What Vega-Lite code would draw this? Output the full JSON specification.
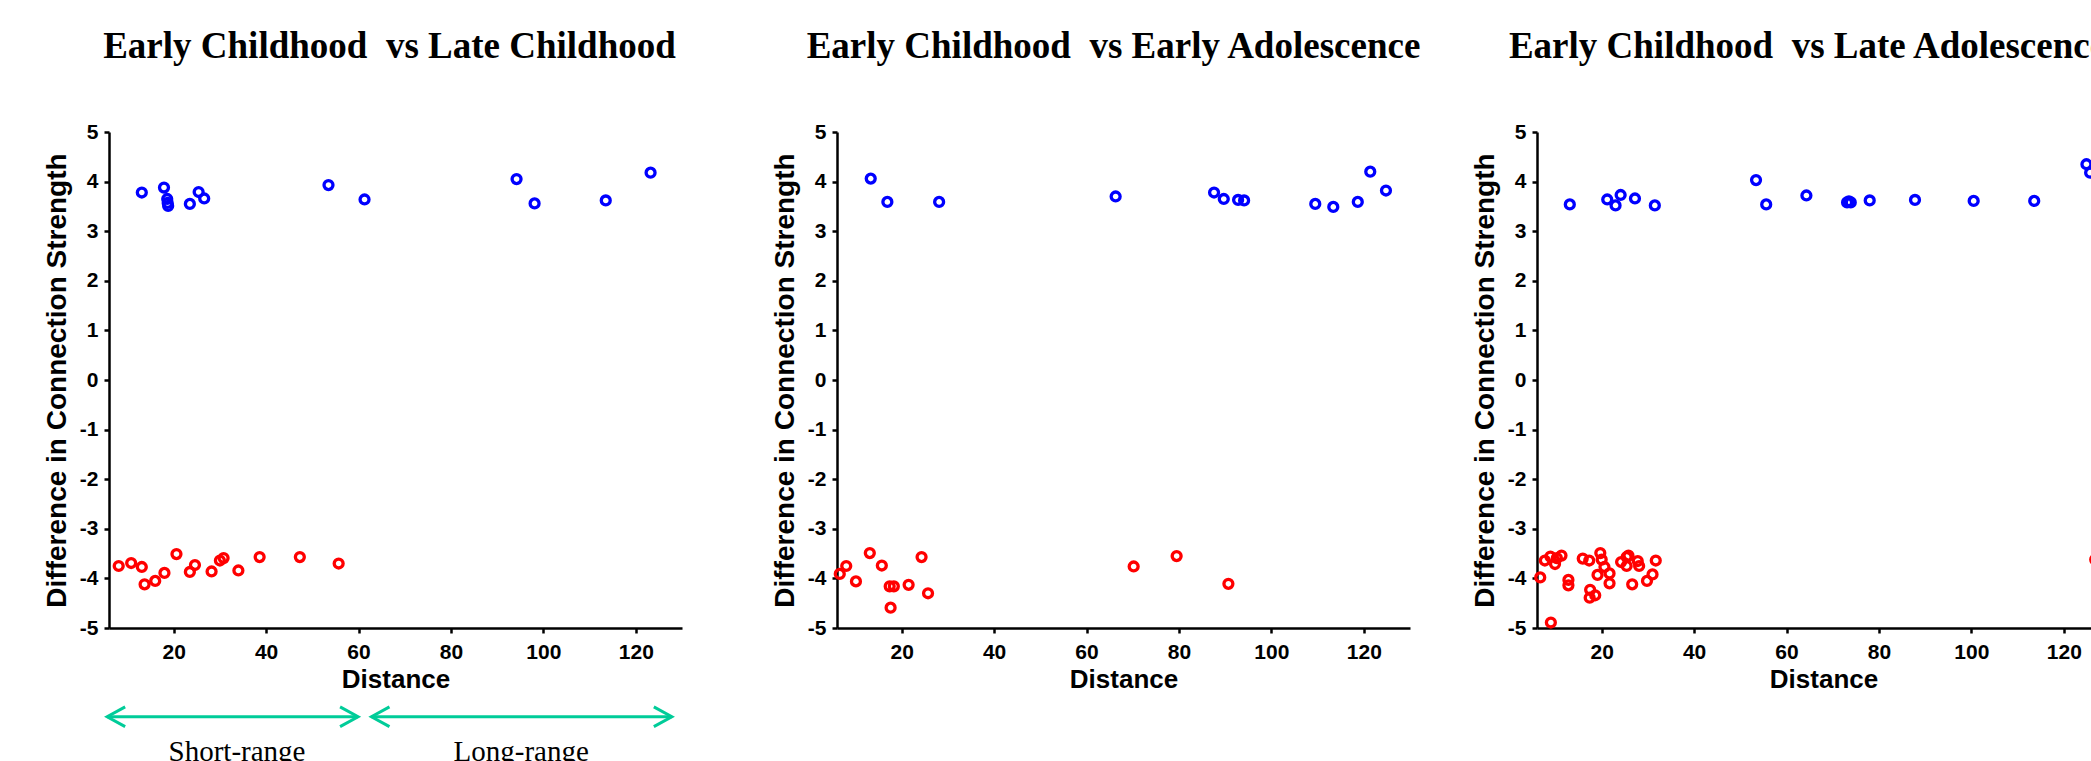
{
  "$schema": "https://vega.github.io/schema/vega-lite/v6.json",
  "background": "white",
  "padding": {"left": 43, "top": 28, "right": 0, "bottom": 0},
  "datasets": {
    "points": [
      {"comparison": "Late Childhood", "direction": "positive", "distance": 13.1, "diff": 3.78},
      {"comparison": "Late Childhood", "direction": "positive", "distance": 17.9, "diff": 3.88},
      {"comparison": "Late Childhood", "direction": "positive", "distance": 18.6, "diff": 3.65},
      {"comparison": "Late Childhood", "direction": "positive", "distance": 18.7, "diff": 3.57},
      {"comparison": "Late Childhood", "direction": "positive", "distance": 18.8, "diff": 3.51},
      {"comparison": "Late Childhood", "direction": "positive", "distance": 23.5, "diff": 3.55},
      {"comparison": "Late Childhood", "direction": "positive", "distance": 25.4, "diff": 3.79},
      {"comparison": "Late Childhood", "direction": "positive", "distance": 26.6, "diff": 3.66},
      {"comparison": "Late Childhood", "direction": "positive", "distance": 53.5, "diff": 3.93},
      {"comparison": "Late Childhood", "direction": "positive", "distance": 61.3, "diff": 3.64},
      {"comparison": "Late Childhood", "direction": "positive", "distance": 94.2, "diff": 4.05},
      {"comparison": "Late Childhood", "direction": "positive", "distance": 98.1, "diff": 3.56},
      {"comparison": "Late Childhood", "direction": "positive", "distance": 113.5, "diff": 3.62},
      {"comparison": "Late Childhood", "direction": "positive", "distance": 123.2, "diff": 4.18},
      {"comparison": "Late Childhood", "direction": "negative", "distance": 8.1, "diff": -3.75},
      {"comparison": "Late Childhood", "direction": "negative", "distance": 10.8, "diff": -3.69},
      {"comparison": "Late Childhood", "direction": "negative", "distance": 13.1, "diff": -3.77},
      {"comparison": "Late Childhood", "direction": "negative", "distance": 13.7, "diff": -4.12},
      {"comparison": "Late Childhood", "direction": "negative", "distance": 16.0, "diff": -4.05},
      {"comparison": "Late Childhood", "direction": "negative", "distance": 18.0, "diff": -3.89},
      {"comparison": "Late Childhood", "direction": "negative", "distance": 20.6, "diff": -3.51},
      {"comparison": "Late Childhood", "direction": "negative", "distance": 23.5, "diff": -3.87},
      {"comparison": "Late Childhood", "direction": "negative", "distance": 24.6, "diff": -3.73},
      {"comparison": "Late Childhood", "direction": "negative", "distance": 28.2, "diff": -3.86},
      {"comparison": "Late Childhood", "direction": "negative", "distance": 30.0, "diff": -3.64},
      {"comparison": "Late Childhood", "direction": "negative", "distance": 30.8, "diff": -3.59},
      {"comparison": "Late Childhood", "direction": "negative", "distance": 34.0, "diff": -3.84},
      {"comparison": "Late Childhood", "direction": "negative", "distance": 38.6, "diff": -3.57},
      {"comparison": "Late Childhood", "direction": "negative", "distance": 47.3, "diff": -3.57},
      {"comparison": "Late Childhood", "direction": "negative", "distance": 55.7, "diff": -3.70},

      {"comparison": "Early Adolescence", "direction": "positive", "distance": 13.3, "diff": 4.06},
      {"comparison": "Early Adolescence", "direction": "positive", "distance": 16.9, "diff": 3.59},
      {"comparison": "Early Adolescence", "direction": "positive", "distance": 28.1, "diff": 3.59},
      {"comparison": "Early Adolescence", "direction": "positive", "distance": 66.3, "diff": 3.70},
      {"comparison": "Early Adolescence", "direction": "positive", "distance": 87.6, "diff": 3.78},
      {"comparison": "Early Adolescence", "direction": "positive", "distance": 89.7, "diff": 3.65},
      {"comparison": "Early Adolescence", "direction": "positive", "distance": 92.8, "diff": 3.63},
      {"comparison": "Early Adolescence", "direction": "positive", "distance": 94.1, "diff": 3.62},
      {"comparison": "Early Adolescence", "direction": "positive", "distance": 109.5, "diff": 3.55},
      {"comparison": "Early Adolescence", "direction": "positive", "distance": 113.4, "diff": 3.49},
      {"comparison": "Early Adolescence", "direction": "positive", "distance": 118.7, "diff": 3.59},
      {"comparison": "Early Adolescence", "direction": "positive", "distance": 121.4, "diff": 4.20},
      {"comparison": "Early Adolescence", "direction": "positive", "distance": 124.8, "diff": 3.82},
      {"comparison": "Early Adolescence", "direction": "negative", "distance": 6.6, "diff": -3.91},
      {"comparison": "Early Adolescence", "direction": "negative", "distance": 8.0, "diff": -3.75},
      {"comparison": "Early Adolescence", "direction": "negative", "distance": 10.1, "diff": -4.06},
      {"comparison": "Early Adolescence", "direction": "negative", "distance": 13.1, "diff": -3.49},
      {"comparison": "Early Adolescence", "direction": "negative", "distance": 15.7, "diff": -3.74},
      {"comparison": "Early Adolescence", "direction": "negative", "distance": 17.6, "diff": -4.59},
      {"comparison": "Early Adolescence", "direction": "negative", "distance": 17.4, "diff": -4.16},
      {"comparison": "Early Adolescence", "direction": "negative", "distance": 18.3, "diff": -4.16},
      {"comparison": "Early Adolescence", "direction": "negative", "distance": 21.5, "diff": -4.13},
      {"comparison": "Early Adolescence", "direction": "negative", "distance": 24.3, "diff": -3.57},
      {"comparison": "Early Adolescence", "direction": "negative", "distance": 25.7, "diff": -4.30},
      {"comparison": "Early Adolescence", "direction": "negative", "distance": 70.2, "diff": -3.76},
      {"comparison": "Early Adolescence", "direction": "negative", "distance": 79.5, "diff": -3.55},
      {"comparison": "Early Adolescence", "direction": "negative", "distance": 90.7, "diff": -4.11},

      {"comparison": "Late Adolescence", "direction": "positive", "distance": 13.1, "diff": 3.54},
      {"comparison": "Late Adolescence", "direction": "positive", "distance": 21.2, "diff": 3.64},
      {"comparison": "Late Adolescence", "direction": "positive", "distance": 23.0, "diff": 3.52},
      {"comparison": "Late Adolescence", "direction": "positive", "distance": 24.1, "diff": 3.73},
      {"comparison": "Late Adolescence", "direction": "positive", "distance": 27.2, "diff": 3.66},
      {"comparison": "Late Adolescence", "direction": "positive", "distance": 31.5, "diff": 3.52},
      {"comparison": "Late Adolescence", "direction": "positive", "distance": 53.4, "diff": 4.03},
      {"comparison": "Late Adolescence", "direction": "positive", "distance": 55.6, "diff": 3.54},
      {"comparison": "Late Adolescence", "direction": "positive", "distance": 64.3, "diff": 3.72},
      {"comparison": "Late Adolescence", "direction": "positive", "distance": 73.1, "diff": 3.58},
      {"comparison": "Late Adolescence", "direction": "positive", "distance": 73.5, "diff": 3.60},
      {"comparison": "Late Adolescence", "direction": "positive", "distance": 73.9, "diff": 3.58},
      {"comparison": "Late Adolescence", "direction": "positive", "distance": 78.0, "diff": 3.62},
      {"comparison": "Late Adolescence", "direction": "positive", "distance": 87.8, "diff": 3.63},
      {"comparison": "Late Adolescence", "direction": "positive", "distance": 100.5, "diff": 3.61},
      {"comparison": "Late Adolescence", "direction": "positive", "distance": 113.6, "diff": 3.61},
      {"comparison": "Late Adolescence", "direction": "positive", "distance": 124.9, "diff": 4.35},
      {"comparison": "Late Adolescence", "direction": "positive", "distance": 125.7, "diff": 4.18},
      {"comparison": "Late Adolescence", "direction": "negative", "distance": 6.7, "diff": -3.98},
      {"comparison": "Late Adolescence", "direction": "negative", "distance": 7.7, "diff": -3.64},
      {"comparison": "Late Adolescence", "direction": "negative", "distance": 8.9, "diff": -3.56},
      {"comparison": "Late Adolescence", "direction": "negative", "distance": 9.9, "diff": -3.71},
      {"comparison": "Late Adolescence", "direction": "negative", "distance": 10.3, "diff": -3.59},
      {"comparison": "Late Adolescence", "direction": "negative", "distance": 11.3, "diff": -3.54},
      {"comparison": "Late Adolescence", "direction": "negative", "distance": 9.0, "diff": -4.89},
      {"comparison": "Late Adolescence", "direction": "negative", "distance": 12.8, "diff": -4.03},
      {"comparison": "Late Adolescence", "direction": "negative", "distance": 12.8, "diff": -4.14},
      {"comparison": "Late Adolescence", "direction": "negative", "distance": 15.9, "diff": -3.60},
      {"comparison": "Late Adolescence", "direction": "negative", "distance": 17.3, "diff": -3.64},
      {"comparison": "Late Adolescence", "direction": "negative", "distance": 17.5, "diff": -4.23},
      {"comparison": "Late Adolescence", "direction": "negative", "distance": 17.4, "diff": -4.39},
      {"comparison": "Late Adolescence", "direction": "negative", "distance": 18.6, "diff": -4.34},
      {"comparison": "Late Adolescence", "direction": "negative", "distance": 19.1, "diff": -3.93},
      {"comparison": "Late Adolescence", "direction": "negative", "distance": 19.7, "diff": -3.49},
      {"comparison": "Late Adolescence", "direction": "negative", "distance": 20.0, "diff": -3.62},
      {"comparison": "Late Adolescence", "direction": "negative", "distance": 20.6, "diff": -3.77},
      {"comparison": "Late Adolescence", "direction": "negative", "distance": 21.7, "diff": -3.90},
      {"comparison": "Late Adolescence", "direction": "negative", "distance": 21.7, "diff": -4.10},
      {"comparison": "Late Adolescence", "direction": "negative", "distance": 24.2, "diff": -3.67},
      {"comparison": "Late Adolescence", "direction": "negative", "distance": 25.4, "diff": -3.57},
      {"comparison": "Late Adolescence", "direction": "negative", "distance": 25.8, "diff": -3.54},
      {"comparison": "Late Adolescence", "direction": "negative", "distance": 25.4, "diff": -3.75},
      {"comparison": "Late Adolescence", "direction": "negative", "distance": 26.6, "diff": -4.12},
      {"comparison": "Late Adolescence", "direction": "negative", "distance": 27.8, "diff": -3.65},
      {"comparison": "Late Adolescence", "direction": "negative", "distance": 28.1, "diff": -3.75},
      {"comparison": "Late Adolescence", "direction": "negative", "distance": 29.8, "diff": -4.05},
      {"comparison": "Late Adolescence", "direction": "negative", "distance": 31.0, "diff": -3.92},
      {"comparison": "Late Adolescence", "direction": "negative", "distance": 31.7, "diff": -3.64},
      {"comparison": "Late Adolescence", "direction": "negative", "distance": 126.8, "diff": -3.62}
    ],
    "ranges": [
      {"label": "Short-range", "start": 5.6, "end": 59.9, "mid": 33.7},
      {"label": "Long-range", "start": 62.8, "end": 127.8, "mid": 95.2}
    ]
  },
  "hconcat": [
    {
      "hconcat": [
        {
          "width": 573,
          "height": 496,
          "title": {"text": "Early Childhood\u00a0 vs Late Childhood", "dx": -6},
          "layer": [
            {
              "data": {"name": "points"},
              "transform": [{"filter": "datum.comparison === 'Late Childhood'"}],
              "mark": {"type": "point", "filled": false, "size": 80, "strokeWidth": 3.3, "opacity": 1},
              "encoding": {
                "x": {"field": "distance", "type": "quantitative", "scale": {"domain": [6, 130], "nice": false, "zero": false}, "axis": {"values": [20, 40, 60, 80, 100, 120], "title": "Distance"}},
                "y": {"field": "diff", "type": "quantitative", "scale": {"domain": [-5, 5], "nice": false}, "axis": {"values": [-5, -4, -3, -2, -1, 0, 1, 2, 3, 4, 5], "labelExpr": "'' + datum.value", "title": "Difference in Connection Strength"}},
                "color": {"field": "direction", "type": "nominal", "scale": {"domain": ["positive", "negative"], "range": ["#0000FF", "#FF0000"]}, "legend": null}
              }
            },
            {
              "data": {"name": "ranges"},
              "mark": {"type": "rule", "color": "#00CC99", "strokeWidth": 3},
              "encoding": {
                "x": {"field": "start", "type": "quantitative"},
                "x2": {"field": "end"},
                "y": {"datum": -6.79}
              }
            },
            {
              "data": {"name": "ranges"},
              "mark": {"type": "point", "shape": "M2,-1.1L0,0L2,1.1", "size": 324, "filled": false, "strokeWidth": 3, "color": "#00CC99", "opacity": 1},
              "encoding": {
                "x": {"field": "start", "type": "quantitative"},
                "y": {"datum": -6.79}
              }
            },
            {
              "data": {"name": "ranges"},
              "mark": {"type": "point", "shape": "M-2,-1.1L0,0L-2,1.1", "size": 324, "filled": false, "strokeWidth": 3, "color": "#00CC99", "opacity": 1},
              "encoding": {
                "x": {"field": "end", "type": "quantitative"},
                "y": {"datum": -6.79}
              }
            },
            {
              "data": {"name": "ranges"},
              "mark": {"type": "text", "font": "Liberation Serif", "fontSize": 29, "baseline": "alphabetic", "align": "center", "color": "black"},
              "encoding": {
                "x": {"field": "mid", "type": "quantitative"},
                "y": {"datum": -7.68},
                "text": {"field": "label"}
              }
            }
          ]
        },
        {
          "width": 573,
          "height": 496,
          "title": {"text": "Early Childhood\u00a0 vs Early Adolescence", "dx": -10},
          "data": {"name": "points"},
          "transform": [{"filter": "datum.comparison === 'Early Adolescence'"}],
          "mark": {"type": "point", "filled": false, "size": 80, "strokeWidth": 3.3, "opacity": 1},
          "encoding": {
            "x": {"field": "distance", "type": "quantitative", "scale": {"domain": [6, 130], "nice": false, "zero": false}, "axis": {"values": [20, 40, 60, 80, 100, 120], "title": "Distance"}},
            "y": {"field": "diff", "type": "quantitative", "scale": {"domain": [-5, 5], "nice": false}, "axis": {"values": [-5, -4, -3, -2, -1, 0, 1, 2, 3, 4, 5], "labelExpr": "'' + datum.value", "title": "Difference in Connection Strength"}},
            "color": {"field": "direction", "type": "nominal", "scale": {"domain": ["positive", "negative"], "range": ["#0000FF", "#FF0000"]}, "legend": null}
          }
        }
      ],
      "spacing": 89
    },
    {
      "width": 573,
      "height": 496,
      "title": {"text": "Early Childhood\u00a0 vs Late Adolescence", "dx": -16},
      "data": {"name": "points"},
      "transform": [{"filter": "datum.comparison === 'Late Adolescence'"}],
      "mark": {"type": "point", "filled": false, "size": 80, "strokeWidth": 3.3, "opacity": 1},
      "encoding": {
        "x": {"field": "distance", "type": "quantitative", "scale": {"domain": [6, 130], "nice": false, "zero": false}, "axis": {"values": [20, 40, 60, 80, 100, 120], "title": "Distance"}},
        "y": {"field": "diff", "type": "quantitative", "scale": {"domain": [-5, 5], "nice": false}, "axis": {"values": [-5, -4, -3, -2, -1, 0, 1, 2, 3, 4, 5], "labelExpr": "'' + datum.value", "title": "Difference in Connection Strength"}},
        "color": {"field": "direction", "type": "nominal", "scale": {"domain": ["positive", "negative"], "range": ["#0000FF", "#FF0000"]}, "legend": null}
      }
    }
  ],
  "spacing": 49,
  "config": {
    "view": {"stroke": null},
    "axis": {
      "grid": false,
      "domainColor": "black",
      "domainWidth": 2.5,
      "tickColor": "black",
      "tickWidth": 2.5,
      "tickSize": 5,
      "labelFont": "Liberation Sans",
      "labelFontWeight": "bold",
      "labelFontSize": 21,
      "labelColor": "black",
      "titleFont": "Liberation Sans",
      "titleFontWeight": "bold",
      "titleFontSize": 26,
      "titleColor": "black"
    },
    "axisX": {"labelPadding": 8, "titlePadding": 4},
    "axisY": {"labelPadding": 6, "titlePadding": 8, "titleFontSize": 28},
    "title": {
      "font": "Liberation Serif",
      "fontSize": 37,
      "fontWeight": "bold",
      "color": "black",
      "anchor": "middle",
      "frame": "group",
      "baseline": "alphabetic",
      "offset": 55
    }
  }
}
